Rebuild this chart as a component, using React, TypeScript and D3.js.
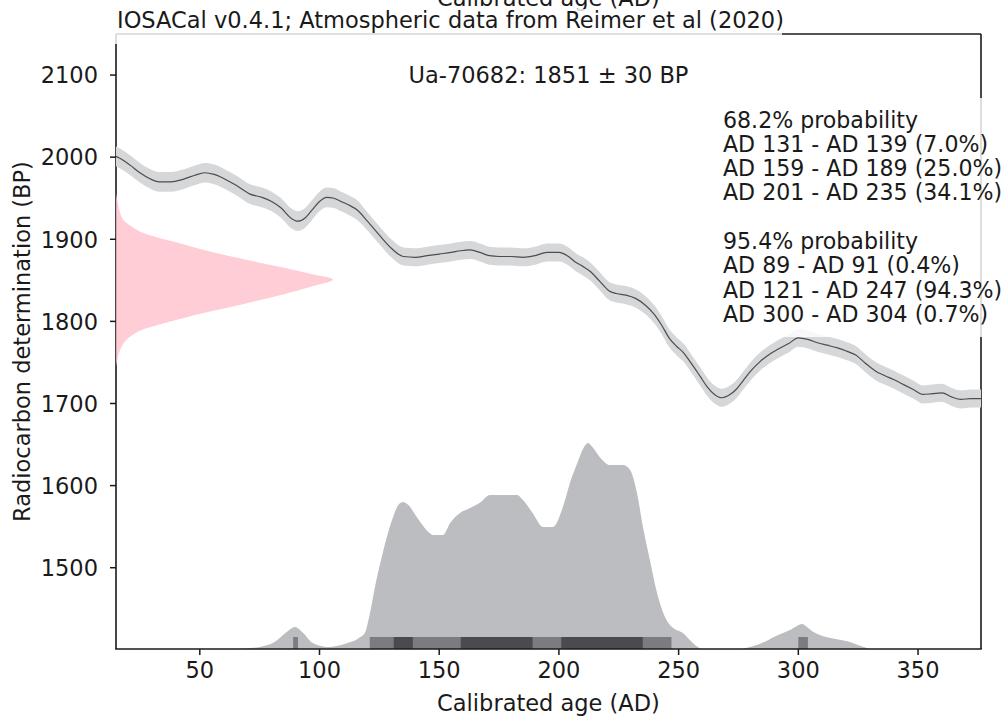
import React from 'react';
import * as d3 from 'd3';

const W = 1005;
const H = 717;
const FONT = '"DejaVu Sans", sans-serif';

// ---- data ----
const xDomain = [15, 376.3];
const yDomain = [1401, 2150];
const xTicks = [50, 100, 150, 200, 250, 300, 350];
const yTicks = [1500, 1600, 1700, 1800, 1900, 2000, 2100];

const curveAD = [15, 17, 21, 25, 29, 33, 38, 43, 48, 52, 56, 60, 65, 71, 76, 80, 84, 88, 91, 94, 97, 100, 103, 106, 109, 112, 116, 120, 125, 130, 135, 140, 145, 150, 155, 159, 163, 167, 171, 175, 180, 185, 190, 195, 200, 204, 207, 210, 213, 217, 221, 224, 228, 232, 236, 240, 243, 246, 249, 252, 255, 259, 262, 265, 268, 271, 274, 277, 280, 284, 288, 292, 296, 300, 304, 308, 312, 316, 320, 324, 328, 332, 336, 340, 344, 348, 352, 356, 360, 364, 368, 372, 376.3];
const curveBP = [2001, 1998, 1990, 1981, 1974, 1970, 1970, 1973, 1978, 1981, 1979, 1974, 1966, 1955, 1951, 1946, 1938, 1926, 1922, 1926, 1936, 1946, 1951, 1950, 1946, 1942, 1935, 1922, 1905, 1889, 1879, 1878, 1880, 1882, 1884, 1886, 1887, 1884, 1880, 1879, 1879, 1878, 1880, 1884, 1884, 1879, 1872, 1867, 1861, 1849, 1837, 1834, 1832, 1828, 1820, 1808, 1795, 1780, 1770, 1762, 1750, 1733, 1720, 1711, 1707, 1710, 1717, 1728, 1739, 1751, 1760, 1767, 1773, 1780, 1778, 1774, 1771, 1768, 1764, 1759, 1749, 1740, 1734, 1729, 1723, 1717, 1711, 1712, 1713, 1708, 1705, 1706, 1706];
const curveErr = [12, 12, 12, 12, 12, 12, 12, 12, 12, 12, 12, 12, 12, 12, 12, 12, 12, 12, 12, 12, 12, 12, 12, 12, 12, 12, 12, 11, 11, 11, 11, 11, 11, 11, 11, 11, 11, 11, 11, 11, 11, 11, 11, 11, 11, 11, 11, 11, 11, 11, 11, 11, 11, 11, 11, 11, 11, 11, 11, 11, 11, 11, 11, 11, 11, 11, 11, 11, 11, 11, 11, 11, 11, 11, 11, 11, 11, 11, 11, 11, 11, 11, 11, 11, 11, 11, 11, 11, 11, 11, 11, 11, 11];

const calAD = [65, 75, 82, 86, 89.8, 93, 97, 103, 109, 112, 116, 119, 121, 123.5, 126.5, 130.7, 133, 134.9, 137, 140.7, 146, 147.4, 151.6, 154.5, 158.7, 162.9, 167, 171.2, 182.5, 185, 189, 193.4, 197.5, 201.7, 205, 207.6, 210, 212.2, 214, 217.2, 221.4, 226.8, 229.7, 232.6, 235.1, 238, 241, 245, 248, 251.8, 255, 258, 260, 276, 278, 285, 290, 293.6, 297, 300, 301.5, 303.6, 306, 309, 315, 321.6, 326, 330];
const calProb = [0, 0.01, 0.04, 0.08, 0.107, 0.08, 0.03, 0.01, 0.02, 0.03, 0.05, 0.08, 0.17, 0.32, 0.47, 0.64, 0.7, 0.714, 0.7, 0.64, 0.563, 0.553, 0.553, 0.61, 0.66, 0.684, 0.71, 0.748, 0.748, 0.723, 0.66, 0.592, 0.592, 0.69, 0.82, 0.9, 0.97, 1.0, 0.98, 0.93, 0.893, 0.893, 0.87, 0.757, 0.592, 0.432, 0.272, 0.14, 0.1, 0.078, 0.04, 0.01, 0, 0, 0.005, 0.03, 0.06, 0.078, 0.095, 0.115, 0.121, 0.107, 0.085, 0.068, 0.05, 0.034, 0.015, 0];

const pinkBP = [1956, 1940, 1924, 1916, 1908, 1896, 1885, 1876, 1867, 1858, 1851, 1842, 1831, 1821, 1812, 1802, 1790, 1778, 1766, 1757, 1745];
const pinkDens = [0, 0.012, 0.032, 0.07, 0.124, 0.281, 0.433, 0.585, 0.742, 0.894, 1.0, 0.894, 0.742, 0.585, 0.433, 0.281, 0.124, 0.05, 0.02, 0.009, 0];

const range95 = [[89, 91], [121, 247], [300, 304]];
const range68 = [[131, 139], [159, 189], [201, 235]];

const titleText = 'IOSACal v0.4.1; Atmospheric data from Reimer et al (2020)';
const sampleText = 'Ua-70682: 1851 ± 30 BP';
const legendLines = [
  '68.2% probability',
  'AD 131 - AD 139 (7.0%)',
  'AD 159 - AD 189 (25.0%)',
  'AD 201 - AD 235 (34.1%)',
  '',
  '95.4% probability',
  'AD 89 - AD 91 (0.4%)',
  'AD 121 - AD 247 (94.3%)',
  'AD 300 - AD 304 (0.7%)',
];
const xLabel = 'Calibrated age (AD)';
const yLabel = 'Radiocarbon determination (BP)';

// ---- layout ----
const L = 116, R = 981, T = 34, B = 649;
const FS = 22.5;
const FS_LEG = 22.1;

export default function App() {
  const x = d3.scaleLinear().domain(xDomain).range([L, R]);
  const y = d3.scaleLinear().domain(yDomain).range([B, T]);
  const hScale = d3.scaleLinear().domain([0, 1]).range([B, B - 206]);
  const pScale = d3.scaleLinear().domain([0, 1]).range([L, L + 217]);
  const barH = 12;

  const curvePts = curveAD.map((a, i) => ({ a, bp: curveBP[i], e: curveErr[i] }));
  const band = d3.area<any>().x(d => x(d.a)).y0(d => y(d.bp - d.e)).y1(d => y(d.bp + d.e)).curve(d3.curveMonotoneX)(curvePts) || '';
  const line = d3.line<any>().x(d => x(d.a)).y(d => y(d.bp)).curve(d3.curveMonotoneX)(curvePts) || '';

  const calPts = calAD.map((a, i) => ({ a, p: calProb[i] }));
  const hist = d3.area<any>().x(d => x(d.a)).y0(B).y1(d => hScale(d.p)).curve(d3.curveMonotoneX)(calPts) || '';

  const pinkPts = pinkBP.map((bp, i) => ({ bp, d: pinkDens[i] }));
  const pink = d3.area<any>().y(d => y(d.bp)).x0(L).x1(d => pScale(d.d)).curve(d3.curveMonotoneY)(pinkPts) || '';

  const spine = '#1a1a1a';

  return (
    <svg width={W} height={H} style={{ position: 'absolute', left: 0, top: 0, background: '#fff' }} fontFamily={FONT}>
      <rect x={0} y={0} width={W} height={H} fill="#fff" />
      <line x1={L} x2={L} y1={T} y2={B} stroke={spine} strokeWidth={1.6} />
      <line x1={R} x2={R} y1={T} y2={B} stroke={spine} strokeWidth={1.6} />
      <line x1={L} x2={R} y1={T} y2={T} stroke={spine} strokeWidth={1.6} />

      {/* calibration curve */}
      <path d={band} fill="#d6d7d9" />
      <path d={line} fill="none" stroke="#4d4d4f" strokeWidth={1.2} />

      {/* radiocarbon determination */}
      <path d={pink} fill="#ffc0cb" fillOpacity={0.8} />

      {/* calibrated distribution */}
      <path d={hist} fill="#bcbdc0" />
      {range95.map(([a, b], i) => (
        <rect key={'r95' + i} x={x(a)} y={B - barH} width={x(b) - x(a)} height={barH} fill="#7c7c80" />
      ))}
      {range68.map(([a, b], i) => (
        <rect key={'r68' + i} x={x(a)} y={B - barH} width={x(b) - x(a)} height={barH} fill="#4b4b4f" />
      ))}

      <line x1={L - 0.8} x2={R + 0.8} y1={B} y2={B} stroke={spine} strokeWidth={1.6} />

      {/* ticks */}
      {xTicks.map(t => (
        <g key={'xt' + t}>
          <line x1={x(t)} x2={x(t)} y1={B} y2={B + 6} stroke={spine} strokeWidth={1.5} />
          <text x={x(t)} y={B + 29} textAnchor="middle" fontSize={FS} fill="#1a1a1a">{t}</text>
        </g>
      ))}
      {yTicks.map(t => (
        <g key={'yt' + t}>
          <line x1={L - 6} x2={L} y1={y(t)} y2={y(t)} stroke={spine} strokeWidth={1.5} />
          <text x={L - 18} y={y(t) + 8.3} textAnchor="end" fontSize={FS} fill="#1a1a1a">{t}</text>
        </g>
      ))}

      {/* axis labels */}
      <text x={(L + R) / 2} y={711} textAnchor="middle" fontSize={FS} fill="#1a1a1a">{xLabel}</text>
      <text x={(L + R) / 2} y={6} textAnchor="middle" fontSize={FS} fill="#1a1a1a">{xLabel}</text>
      <text transform={`translate(30,${(T + B) / 2}) rotate(-90)`} textAnchor="middle" fontSize={FS} fill="#1a1a1a">{yLabel}</text>

      {/* title with box */}
      <rect x={113} y={9} width={669} height={35} fill="#fff" fillOpacity={0.82} />
      <text x={117} y={28} fontSize={FS} fill="#1a1a1a">{titleText}</text>

      {/* sample label */}
      <text x={(L + R) / 2} y={83} textAnchor="middle" fontSize={FS} fill="#1a1a1a">{sampleText}</text>

      {/* legend box */}
      <rect x={715} y={98} width={290} height={239} fill="#fff" fillOpacity={0.82} />
      {legendLines.map((s, i) => (
        <text key={'lg' + i} x={723} y={127.5 + i * 24.3} fontSize={FS_LEG} fill="#1a1a1a">{s}</text>
      ))}
    </svg>
  );
}
